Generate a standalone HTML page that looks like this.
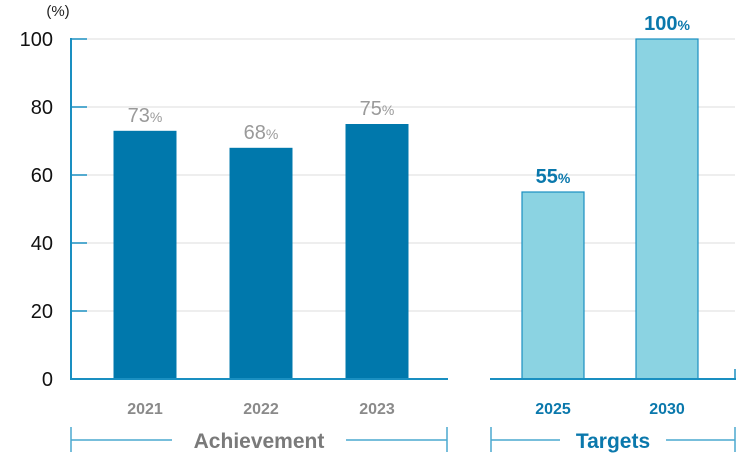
<!DOCTYPE html>
<html><head><meta charset="utf-8"><style>
body{margin:0;background:#fff;}
svg{display:block;font-family:"Liberation Sans","Noto Sans CJK JP",sans-serif;}
</style></head><body>
<svg id="chart" width="750" height="455" viewBox="0 0 750 455">
<text x="58" y="16" font-size="15" text-anchor="middle" fill="#222">(%)</text>
<g id="grid"></g>
<g id="bars"></g>
<line x1="71" y1="38" x2="71" y2="379" stroke="#1a8fc1" stroke-width="2"/>
<line x1="70" y1="379" x2="448" y2="379" stroke="#1a8fc1" stroke-width="2"/>
<line x1="490" y1="379" x2="736" y2="379" stroke="#1a8fc1" stroke-width="2"/>
<line x1="735" y1="369" x2="735" y2="379" stroke="#1a8fc1" stroke-width="1.5"/>
<g stroke="#4aa8cf" stroke-width="1.5">
<line x1="71" y1="427" x2="71" y2="452"/><line x1="447" y1="427" x2="447" y2="452"/>
<line x1="71" y1="440" x2="172" y2="440"/><line x1="346" y1="440" x2="447" y2="440"/>
</g>
<text x="259" y="448" font-size="21" font-weight="bold" fill="#7a7a7a" text-anchor="middle">Achievement</text>
<g stroke="#4aa8cf" stroke-width="1.5">
<line x1="491" y1="427" x2="491" y2="452"/><line x1="735" y1="427" x2="735" y2="452"/>
<line x1="491" y1="440" x2="560" y2="440"/><line x1="666" y1="440" x2="735" y2="440"/>
</g>
<text x="613" y="448" font-size="21" font-weight="bold" fill="#0a78ac" text-anchor="middle">Targets</text>
</svg>
<script>
const categories=["2021","2022","2023","2025","2030"];
const values=[73,68,75,55,100];
const isTarget=[false,false,false,true,true];
const yTicks=[0,20,40,60,80,100];
const centers=[145,261,377,553,667];
const ns="http://www.w3.org/2000/svg";
function y(v){return 379-v*3.4;}
function mk(t,a,p){const e=document.createElementNS(ns,t);for(const k in a)e.setAttribute(k,a[k]);p.appendChild(e);return e;}
const grid=document.getElementById('grid'),bars=document.getElementById('bars');
yTicks.forEach(t=>{
 if(t>0){const g=mk('line',{x1:71,x2:735,y1:y(t),y2:y(t),stroke:'#dcdcdc','stroke-width':1},grid);
 
 
 const tk=mk('line',{x1:71,x2:87,y1:y(t),y2:y(t),stroke:'#1a8fc1','stroke-width':1.5},grid);
 
 }
 const l=mk('text',{x:53,y:y(t)+7,'font-size':20,'text-anchor':'end',fill:'#111'},grid);
 l.textContent=t;
 
 
});
categories.forEach((c,i)=>{
 const v=values[i],tg=isTarget[i],cx=centers[i],w=tg?62:63;
 const r=mk('rect',{x:cx-w/2,y:y(v),width:w,height:379-y(v),fill:tg?'#8bd3e2':'#0078ac',stroke:tg?'#1a8fc1':'none','stroke-width':1.2},bars);
 
 
 const col=tg?'#0a78ac':'#9a9a9a';
 const t=mk('text',{x:cx,y:y(v)-9,'text-anchor':'middle',fill:col,'font-size':20,'font-weight':tg?'bold':'normal'},bars);
 t.innerHTML=v+'<tspan font-size="14">%</tspan>';
 
 
 const xl=mk('text',{x:cx,y:414,'text-anchor':'middle',fill:tg?'#0a78ac':'#8a8a8a','font-size':16,'font-weight':'bold'},bars);
 xl.textContent=c;
 
 
});
</script>
</body></html>
